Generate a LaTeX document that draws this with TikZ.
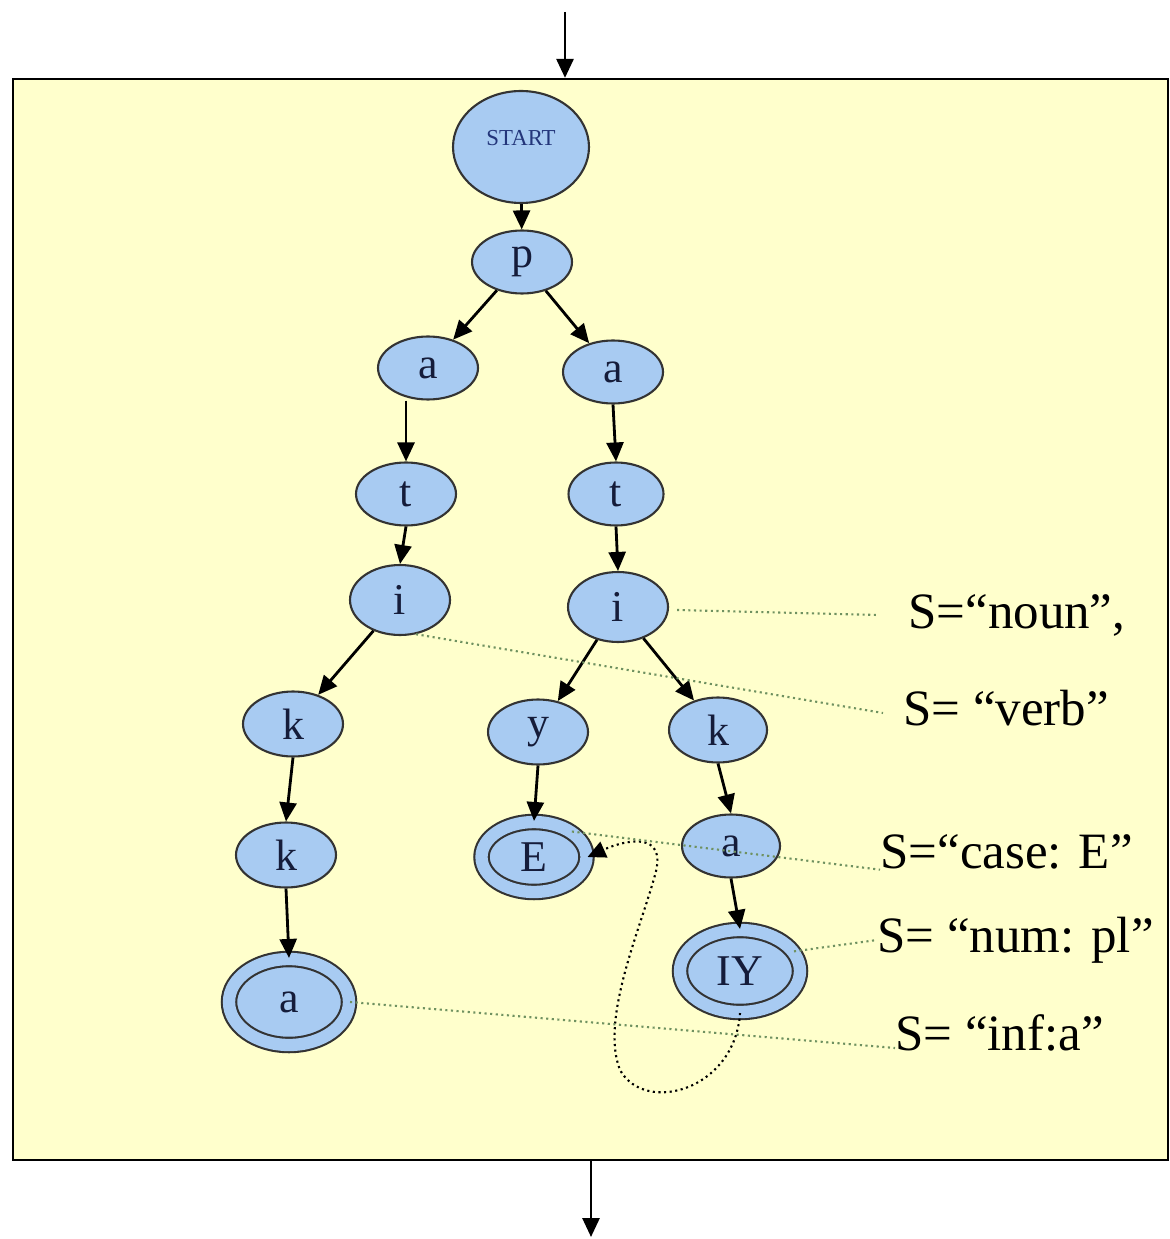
\documentclass[tikz,border=0pt]{standalone}
\usepackage{fontspec}
\setmainfont{Liberation Serif}
\usetikzlibrary{
  arrows.meta,
  positioning,
  shapes.geometric,
  calc
}
\definecolor{boxyellow}{HTML}{FFFFCC}
\definecolor{stateblue}{HTML}{A8CBF2}
\definecolor{letterink}{HTML}{151C3A}
\definecolor{startink}{HTML}{23357A}
\definecolor{noteline}{HTML}{6F9160}

\begin{document}
\begin{tikzpicture}[
  x=0.02cm, y=-0.02cm,
  state/.style={ellipse, draw=black!80, line width=1.2pt, fill=stateblue, inner sep=0pt,
    minimum width=2cm, minimum height=1.26cm, text=letterink,
    font=\fontsize{25}{27}\selectfont},
  accept/.style={state, double=stateblue, double distance=7pt},
  arrow/.style={-{Triangle[length=0.38cm, width=0.34cm]}, line width=1.6pt},
  hint/.style={dotted, noteline, line width=1.2pt},
  tag/.style={anchor=west, inner sep=0pt, font=\fontsize{29}{31}\selectfont}
]
  \useasboundingbox (0,0) rectangle (1169,1239);

  % Frame
  \node[draw, line width=1.4pt, fill=boxyellow, minimum width=23.1cm,
    minimum height=21.62cm] (frame) at (590.5,619.5) {};
  \coordinate (in) at (565,12);
  \coordinate (out) at (591,1237);
  \draw[arrow] (in) -- (in |- frame.north);
  \draw[arrow] (out |- frame.south) -- (out);

  % States
  \node[state, minimum width=2.72cm, minimum height=2.24cm,
    font=\fontsize{13}{14}\selectfont, text=startink] (start) at (521,147)
    {\raisebox{0.36cm}{START}};
  \node[state] (p) at (522,262) {p};
  \node[state] (aL) at (428,368) {a};
  \node[state] (aR) at (613,372) {a};
  \node[state] (tL) at (406,494) {t};
  \node[state, minimum width=1.9cm] (tR) at (616,494) {t};
  \node[state, minimum height=1.4cm] (iL) at (400,600) {i};
  \node[state, minimum height=1.4cm] (iR) at (618,607) {i};
  \node[state, minimum height=1.3cm] (kL1) at (293,724) {k};
  \node[state, minimum height=1.3cm] (kL2) at (286,855) {k};
  \node[accept, minimum width=2.4cm, minimum height=1.72cm] (aFin) at (289,1002) {a};
  \node[state, minimum height=1.3cm] (y) at (538,732) {y};
  \node[state, minimum width=1.96cm, minimum height=1.3cm] (kR) at (718,730) {k};
  \node[accept, minimum width=2.1cm, minimum height=1.4cm] (E) at (534,857) {E};
  \node[state, minimum width=1.96cm] (aR2) at (731,846) {a};
  \node[accept, minimum width=2.4cm, minimum height=1.64cm] (IY) at (740,971) {IY};

  % Transitions
  \draw[arrow] (start) -- (p);
  \draw[arrow] (p) -- (aL);
  \draw[arrow] (p) -- (aR);
  \draw[arrow] (tL.north |- aL.south) -- (tL.north);
  \draw[arrow] (tL.south) -- (iL.north);
  \draw[arrow] (iL) -- (kL1);
  \draw[arrow] (kL1.south) -- (kL2.north);
  \draw[arrow] (kL2.south) -- (aFin.north);
  \draw[arrow] (aR.south) -- (tR.north);
  \draw[arrow] (tR.south) -- (iR.north);
  \draw[arrow] (iR) -- (y);
  \draw[arrow] (iR) -- (kR);
  \draw[arrow] (y.south) -- (E.north);
  \draw[arrow] (kR.south) -- (aR2.north);
  \draw[arrow] (aR2.south) -- (IY.north);

  % Loop back
  \draw[dotted, line width=1.2pt, -{Triangle[length=0.36cm, width=0.34cm]}]
    (IY.south) .. controls (735,1090) and (645,1115) .. (620,1070)
    .. controls (600,1020) and (640,930) .. (655,875)
    .. controls (668,830) and (625,840) .. (E.east);

  % Tags
  \node[tag] (noun) at (908,615) {S=“noun”,};
  \node[tag] (verb) at (903,708) {S= “verb”};
  \node[tag] (caseE) at (880,852) {S=“case: E”};
  \node[tag] (numpl) at (877,940) {S= “num: pl”};
  \node[tag] (infa) at (895,1033) {S= “inf:a”};

  \draw[hint] (iR.east) ++(8,3) -- ([xshift=-0.6cm]noun.west);
  \draw[hint] (iL.-65) -- ([xshift=-0.4cm, yshift=-0.1cm]verb.west);
  \draw[hint] (E.north east) -- (caseE.south west);
  \draw[hint] (IY.20) -- (numpl.west);
  \draw[hint] (aFin.east) -- ([yshift=-0.3cm]infa.west);

\end{tikzpicture}
\end{document}
